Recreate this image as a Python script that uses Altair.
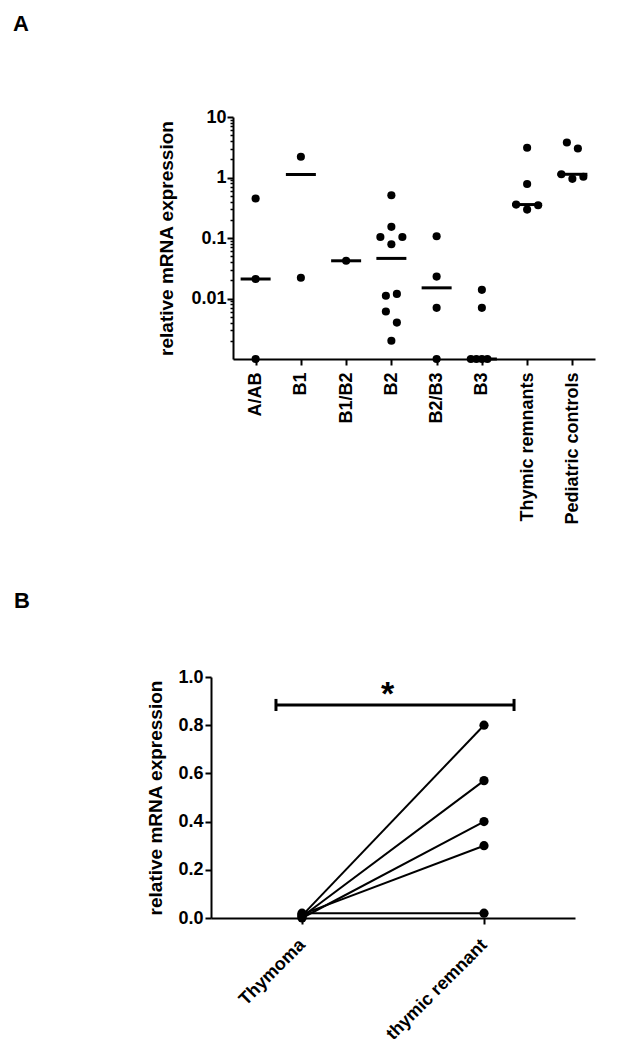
import altair as alt
import pandas as pd

FONT = "Liberation Sans"

# ---------------- Panel A data ----------------
categories_A = ["A/AB", "B1", "B1/B2", "B2", "B2/B3", "B3",
                "Thymic remnants", "Pediatric controls"]

point_group = (["A/AB"] * 3 + ["B1"] * 2 + ["B1/B2"] * 1 + ["B2"] * 10 +
               ["B2/B3"] * 4 + ["B3"] * 6 + ["Thymic remnants"] * 5 +
               ["Pediatric controls"] * 5)
point_value = [0.45, 0.021, 0.001,
               2.2, 0.022,
               0.042,
               0.51, 0.153, 0.104, 0.104, 0.079, 0.0111, 0.0119, 0.0061, 0.0040, 0.0020,
               0.107, 0.023, 0.0070, 0.001,
               0.0139, 0.0070, 0.001, 0.001, 0.001, 0.001,
               3.1, 0.78, 0.357, 0.295, 0.348,
               3.79, 3.02, 1.13, 0.95, 1.03]
# side-by-side slot of each dot (scatter spreading of overlapping dots)
point_slot = [0, 0, 0,
              0, 0,
              0,
              0, 0, -2, 2, 0, -1, 1, -1, 1, 0,
              0, 0, 0, 0,
              0, 0, -2, -1, 0, 1,
              0, 0, -2, 0, 2,
              -1, 1, -2, 0, 2]
median_value = [0.021, 1.12, 0.042, 0.046, 0.015, 0.001, 0.357, 1.13]

yA_ticks = [0.01, 0.1, 1, 10]
yA_minor = [round(d * k, 6) for d in [0.001, 0.01, 0.1, 1] for k in range(2, 10)]

# ---------------- Panel B data ----------------
pair_id = [1, 2, 3, 4, 5]
thymoma_value = [0.010, 0.005, 0.000, 0.015, 0.020]
remnant_value = [0.80, 0.57, 0.40, 0.30, 0.02]
categories_B = ["Thymoma", "thymic remnant"]
sig_x = [-0.143, 1.165]
sig_y = 0.884
sig_star_x = 0.47
sig_label = "*"

dfA = pd.DataFrame({"group": point_group, "value": point_value, "slot": point_slot})
dfMed = pd.DataFrame({"group": categories_A, "median": median_value})
dfMinor = pd.DataFrame({"v": yA_minor})

rows = []
for p, a, b in zip(pair_id, thymoma_value, remnant_value):
    rows.append({"pair": p, "pos": 0, "value": a})
    rows.append({"pair": p, "pos": 1, "value": b})
dfB = pd.DataFrame(rows)
dfSig = pd.DataFrame({"x1": [sig_x[0]], "x2": [sig_x[1]], "y": [sig_y],
                      "xm": [sig_star_x], "lab": [sig_label]})
dfCaps = pd.DataFrame({"x": sig_x, "ylo": [sig_y - 0.025] * 2, "yhi": [sig_y + 0.025] * 2})

axis_common = dict(domainColor="black", domainWidth=2, tickColor="black", tickWidth=2,
                   labelFont=FONT, labelFontWeight="bold", labelFontSize=18,
                   labelColor="black", titleFont=FONT, titleFontWeight="bold",
                   titleFontSize=19, titleColor="black", grid=False)

no_border = alt.ViewBackground(stroke="transparent", strokeWidth=0, fill="white")

# ---------------- Panel A chart ----------------
yscaleA = alt.Scale(type="log", domain=[0.001, 10])
xA = alt.X("group:N", scale=alt.Scale(type="point", domain=categories_A, padding=0.5),
           axis=alt.Axis(title=None, labelAngle=-90, labelAlign="right",
                         labelBaseline="middle", labelPadding=7, tickSize=6,
                         **axis_common))
yA_axis = alt.Axis(values=yA_ticks, format="~g", title="relative mRNA expression",
                   tickSize=6, labelPadding=1, titlePadding=14, **axis_common)

minorA = alt.Chart(dfMinor).mark_point(opacity=0).encode(
    y=alt.Y("v:Q", scale=yscaleA,
            axis=alt.Axis(values=yA_minor, labels=False, domain=False, tickSize=3,
                          tickWidth=1.5, tickColor="black", title=None, orient="left",
                          grid=False))
)
dotsA = alt.Chart(dfA).mark_circle(size=66, color="black", opacity=1).encode(
    x=xA,
    xOffset=alt.XOffset("slot:Q", scale=alt.Scale(domain=[-2, 2], range=[-11, 11])),
    y=alt.Y("value:Q", scale=yscaleA, axis=yA_axis),
)
medA = alt.Chart(dfMed).mark_tick(color="black", thickness=3, size=30, opacity=1).encode(
    x=xA, y=alt.Y("median:Q", scale=yscaleA, axis=None)
)
chartA = alt.layer(dotsA, minorA, medA).resolve_axis(y="independent").properties(
    width=362, height=242, view=no_border,
    title=alt.TitleParams("A", anchor="start", frame="group", dx=-220, offset=72,
                          font=FONT, fontSize=22, fontWeight="bold", color="black"),
)

# ---------------- Panel B chart ----------------
# panel B's axes sit 22px further left than panel A's
B_SHIFT = 22
B_W = 364
xscaleB = alt.Scale(domain=[-0.5, 1.5], nice=False, zero=False,
                    range=[-B_SHIFT, B_W - B_SHIFT])
yscaleB = alt.Scale(domain=[0, 1], nice=False)
xB_axis = alt.Axis(values=[0, 1],
                   labelExpr="datum.value == 0 ? '%s' : '%s'" % tuple(categories_B),
                   title=None, labelAngle=-45, labelAlign="right", labelBaseline="middle",
                   labelPadding=18, tickSize=6, **axis_common)
yB_axis = alt.Axis(values=[0, 0.2, 0.4, 0.6, 0.8, 1.0], format=".1f",
                   title="relative mRNA expression", tickSize=6, labelPadding=2,
                   titlePadding=12, offset=B_SHIFT, **axis_common)

linesB = alt.Chart(dfB).mark_line(color="black", strokeWidth=2).encode(
    x=alt.X("pos:Q", scale=xscaleB, axis=xB_axis),
    y=alt.Y("value:Q", scale=yscaleB, axis=yB_axis),
    detail="pair:N",
)
dotsB = alt.Chart(dfB).mark_circle(size=85, color="black", opacity=1).encode(
    x=alt.X("pos:Q", scale=xscaleB, axis=xB_axis),
    y=alt.Y("value:Q", scale=yscaleB, axis=yB_axis),
)
sigBar = alt.Chart(dfSig).mark_rule(color="black", strokeWidth=3).encode(
    x=alt.X("x1:Q", scale=xscaleB, axis=xB_axis), x2="x2:Q",
    y=alt.Y("y:Q", scale=yscaleB, axis=yB_axis),
)
sigCaps = alt.Chart(dfCaps).mark_rule(color="black", strokeWidth=3).encode(
    x=alt.X("x:Q", scale=xscaleB, axis=xB_axis),
    y=alt.Y("ylo:Q", scale=yscaleB, axis=yB_axis), y2="yhi:Q",
)
sigText = alt.Chart(dfSig).mark_text(font=FONT, fontSize=34, fontWeight="bold",
                                     color="black", baseline="alphabetic",
                                     align="center").encode(
    x=alt.X("xm:Q", scale=xscaleB, axis=xB_axis),
    y=alt.Y("y:Q", scale=yscaleB, axis=yB_axis),
    text="lab:N",
)
chartB = alt.layer(linesB, dotsB, sigBar, sigCaps, sigText).properties(
    width=B_W - B_SHIFT, height=241, view=no_border,
    title=alt.TitleParams("B", anchor="start", frame="group", dx=-219, offset=55,
                          font=FONT, fontSize=22, fontWeight="bold", color="black"),
)

chart = alt.concat(chartA, chartB, columns=1, spacing=65, align="none").configure_view(
    strokeWidth=0, stroke="transparent"
).configure_axis(grid=False).configure(background="white")

chart.save("out.html", embed_options={"renderer": "svg", "actions": False})
